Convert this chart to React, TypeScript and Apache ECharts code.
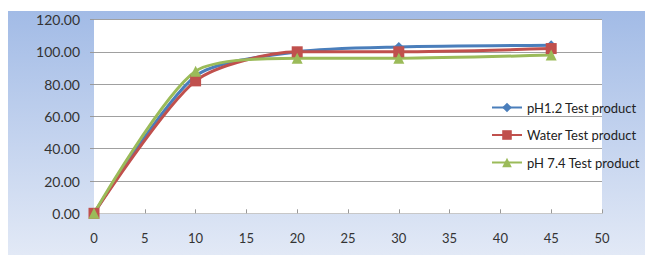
import React, { useEffect, useRef } from "react";
import * as echarts from "echarts";

const times = [0, 10, 20, 30, 45];
const ph12 = [0, 85, 100, 103, 104];
const water = [0, 82, 100, 100, 102];
const ph74 = [0, 88, 96, 96, 98];
const seriesNames = ["pH1.2 Test product", "Water Test product", "pH 7.4 Test product"];

export default function App() {
  const ref = useRef<HTMLDivElement>(null);
  useEffect(() => {
    const chart = echarts.init(ref.current!, undefined, { renderer: "svg" });
    const mk = (vals: number[]) => times.map((t, i) => [t, vals[i]]);
    chart.setOption({
      animation: false,
      graphic: [
        {
          type: "rect",
          left: 8,
          top: 11,
          shape: { width: 637, height: 244 },
          z: -10,
          style: {
            fill: new echarts.graphic.LinearGradient(0, 0, 0, 1, [
              { offset: 0, color: "#a2bbe6" },
              { offset: 1, color: "#e2e9f6" },
            ]),
          },
        },
      ],
      grid: {
        left: 94,
        right: 43,
        top: 19.5,
        bottom: 41.7,
        show: true,
        backgroundColor: "#ffffff",
        borderWidth: 0,
      },
      legend: {
        orient: "vertical",
        left: 486,
        top: 96,
        itemGap: 14.5,
        itemWidth: 30,
        itemHeight: 12,
        textStyle: { fontFamily: "Lato", fontSize: 13, color: "#222" },
        data: seriesNames,
      },
      xAxis: {
        type: "value",
        min: 0,
        max: 50,
        interval: 5,
        axisLine: { show: true, lineStyle: { color: "#c8c8c8" } },
        axisTick: { show: true, inside: true, length: 4, lineStyle: { color: "#999" } },
        axisLabel: { fontFamily: "Lato", fontSize: 13, color: "#333", margin: 18 },
        splitLine: { show: false },
      },
      yAxis: {
        type: "value",
        min: 0,
        max: 120,
        interval: 20,
        axisLine: { show: false },
        axisTick: { show: true, length: 4, lineStyle: { color: "#999" } },
        axisLabel: {
          fontFamily: "Lato",
          fontSize: 14,
          color: "#333",
          margin: 14,
          formatter: (v: number) => v.toFixed(2),
        },
        splitLine: { show: true, lineStyle: { color: "#a0a0a0", width: 1 } },
      },
      series: [
        {
          name: seriesNames[0],
          type: "line",
          smooth: 0.25,
          data: mk(ph12),
          symbol: "diamond",
          symbolSize: 10,
          itemStyle: { color: "#4a7ebb" },
          lineStyle: { width: 3, color: "#4a7ebb" },
        },
        {
          name: seriesNames[1],
          type: "line",
          smooth: 0.25,
          data: mk(water),
          symbol: "rect",
          symbolSize: 11,
          itemStyle: { color: "#c0504d" },
          lineStyle: { width: 3, color: "#c0504d" },
        },
        {
          name: seriesNames[2],
          type: "line",
          smooth: 0.25,
          data: mk(ph74),
          symbol: "triangle",
          symbolSize: 11,
          itemStyle: { color: "#9bbb59" },
          lineStyle: { width: 3, color: "#9bbb59" },
        },
      ],
    });
    return () => chart.dispose();
  }, []);
  return (
    <div
      ref={ref}
      style={{ position: "absolute", left: 0, top: 0, width: 645, height: 255 }}
    />
  );
}
